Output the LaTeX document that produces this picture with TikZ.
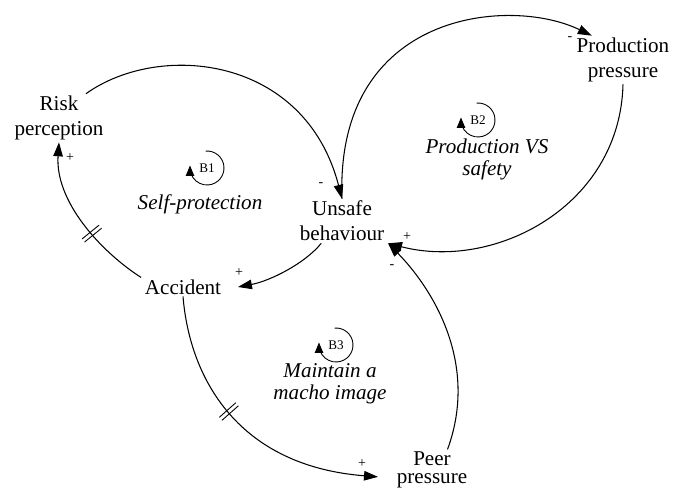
\documentclass[tikz,border=0pt]{standalone}
\usepackage{fontspec}
\setmainfont{Liberation Serif}
\usetikzlibrary{arrows.meta,decorations.markings}

\begin{document}
\begin{tikzpicture}[
  var/.style={align=center, inner xsep=2pt, inner ysep=1pt, font=\fontsize{12}{14.4}\selectfont},
  loopname/.style={align=center, inner sep=0pt, font=\fontsize{12}{12.5}\selectfont\itshape},
  loopid/.style={inner sep=0pt, font=\fontsize{7.5}{8}\selectfont},
  pol/.style={inner sep=0pt, font=\fontsize{8}{8}\selectfont},
  link/.style={line width=.6pt, -{Triangle[length=2.8mm,width=1.9mm]}},
  looparrow/.style={line width=.5pt, -{Triangle[length=2.1mm,width=1.7mm]}},
  delay/.style={postaction={decorate,decoration={markings,
    mark=at position #1 with {\draw[-,line width=.5pt] (-0.04,-0.22) -- (-0.04,0.22) (0.04,-0.22) -- (0.04,0.22);}}}}
]
\useasboundingbox (0,0) rectangle (13.54,9.82);

%% variables
\node[var] (risk) at (1.18,7.46) {Risk\\perception};
\node[var] (unsafe) at (6.84,5.40) {Unsafe\\behaviour};
\node[var] (accident) at (3.66,4.08) {Accident};
\node[var] (prod) at (12.46,8.62) {Production\\pressure};
\node[var, font=\fontsize{12}{10.6}\selectfont] (peer) at (8.64,0.42) {Peer\\pressure};

%% B1 loop
\draw[link] (risk.42) .. controls (3.2,9.0) and (6.1,8.7) .. (unsafe.north);
\draw[link] (unsafe.227) .. controls (6.1,4.55) and (5.4,4.2) .. ([xshift=2.6mm]accident.east);
\draw[link, delay=0.4] (accident.north west) .. controls (2.0,4.8) and (1.1,5.8) .. (risk.south);

%% B2 loop
\draw[link] (unsafe.north) .. controls (6.7,9.6) and (10.2,9.9) .. (prod.142);
\draw[link] (prod.south) .. controls (12.4,5.7) and (9.9,4.4) .. (unsafe.south east);

%% B3 loop
\draw[link, delay=0.43] (accident.south) .. controls (3.8,2.2) and (4.8,0.5) .. ([xshift=-3mm]peer.190);
\draw[link] (peer.53) .. controls (9.6,2.6) and (8.6,4.1) .. (unsafe.south east);

%% polarities
\node[pol] (sgnRU) at (6.42,6.12) {-};
\node[pol] (sgnUA) at (4.78,4.36) {+};
\node[pol] (sgnAR) at (1.40,6.66) {+};
\node[pol] (sgnUP) at (11.40,9.04) {-};
\node[pol] (sgnPU) at (8.14,5.08) {+};
\node[pol] (sgnAP) at (7.24,0.54) {+};
\node[pol] (sgnEU) at (7.84,4.48) {-};

%% loop markers
\node[loopid] (b1) at (4.14,6.46) {B1};
\draw[looparrow] ([shift={(95:0.34)}]b1.center) arc[start angle=95, end angle=-180, radius=0.34] -- ++(0,0.05);
\node[loopname] (self) at (4.00,5.74) {Self-protection};

\node[loopid] (b2) at (9.56,7.42) {B2};
\draw[looparrow] ([shift={(95:0.34)}]b2.center) arc[start angle=95, end angle=-180, radius=0.34] -- ++(0,0.05);
\node[loopname] (tradeoff) at (9.74,6.64) {Production VS\\safety};

\node[loopid] (b3) at (6.72,2.92) {B3};
\draw[looparrow] ([shift={(95:0.34)}]b3.center) arc[start angle=95, end angle=-180, radius=0.34] -- ++(0,0.05);
\node[loopname] (macho) at (6.60,2.14) {Maintain a\\macho image};
\end{tikzpicture}
\end{document}
